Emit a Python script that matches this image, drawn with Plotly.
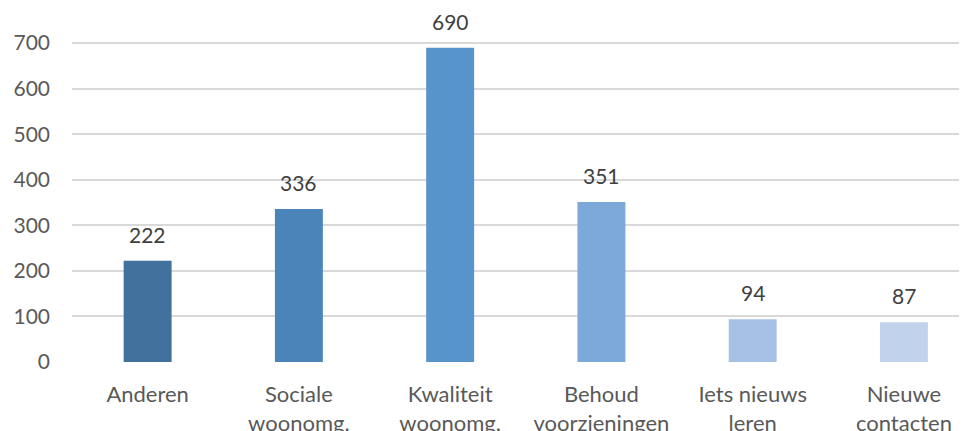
import plotly.graph_objects as go

categories = ["Anderen", "Sociale<br>woonomg.", "Kwaliteit<br>woonomg.", "Behoud<br>voorzieningen", "Iets nieuws<br>leren", "Nieuwe<br>contacten"]
values = [222, 336, 690, 351, 94, 87]
colors = ["#41719C", "#4A84B8", "#5794CC", "#7DA9DA", "#A6C1E5", "#C1D3EC"]
y_ticks = [0, 100, 200, 300, 400, 500, 600, 700]

FONT = "Lato"
xs = list(range(len(categories)))

fig = go.Figure(go.Bar(
    x=xs,
    y=values,
    marker=dict(color=colors, line=dict(width=0)),
    cliponaxis=False,
    hoverinfo="x+y",
))

for x, v in zip(xs, values):
    fig.add_annotation(
        x=x, y=v, text=str(v), showarrow=False,
        xanchor="center", yanchor="bottom", yshift=12,
        font=dict(family=FONT, size=21, color="#404040"),
    )

fig.update_layout(
    width=959, height=423,
    margin=dict(l=64, r=0, t=0, b=69),
    plot_bgcolor="white", paper_bgcolor="white",
    bargap=0.683,
    showlegend=False,
    xaxis=dict(
        range=[-0.5, 5.417],
        tickmode="array",
        tickvals=xs,
        ticktext=categories,
        tickfont=dict(family=FONT, size=22, color="#595959"),
        showgrid=False, zeroline=False, showline=False,
        ticks="", ticklabelstandoff=17, automargin=False,
    ),
    yaxis=dict(
        range=[0, 777],
        tickmode="array",
        tickvals=y_ticks,
        tickfont=dict(family=FONT, size=21, color="#595959"),
        showgrid=True, gridcolor="#D9D9D9", gridwidth=1.5,
        zeroline=False, showline=False, ticks="",
        ticklabelstandoff=21, automargin=False,
    ),
)

fig.write_html("out.html")
